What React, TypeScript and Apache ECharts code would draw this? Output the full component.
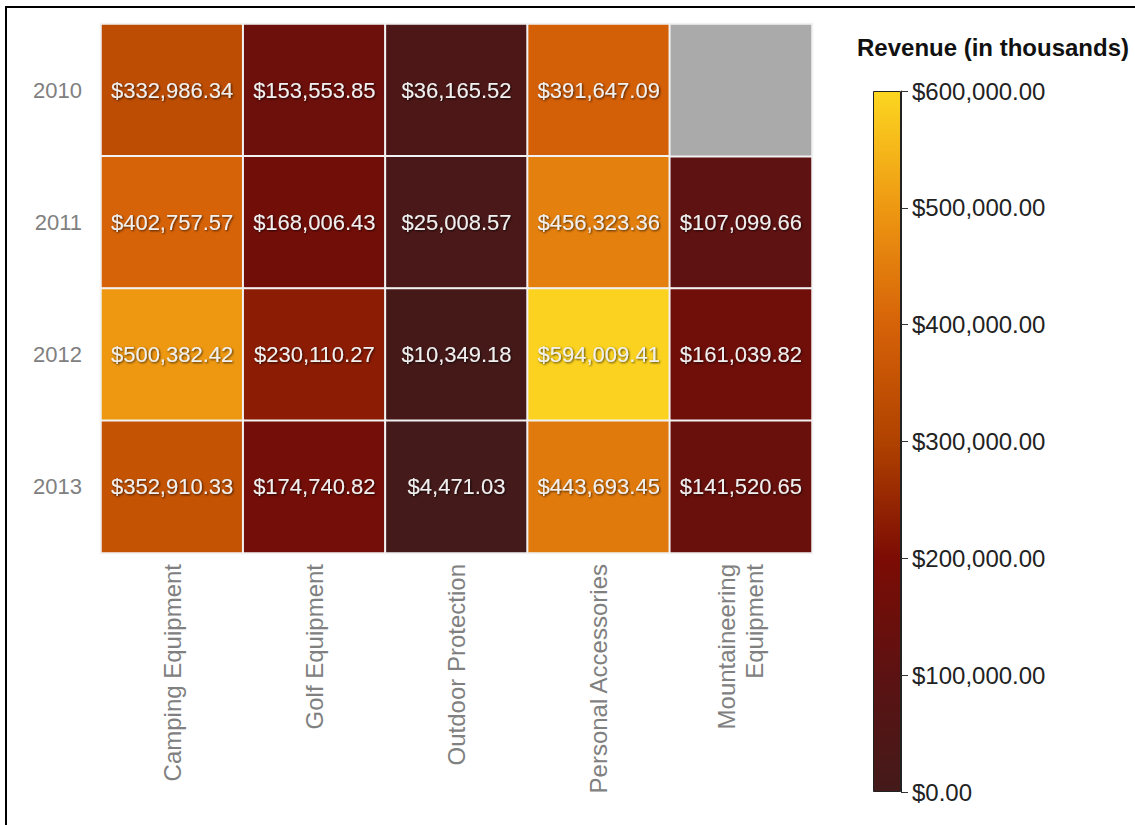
import React, { useEffect, useRef } from "react";
import * as echarts from "echarts";

const years = ["2010", "2011", "2012", "2013"];
const categories = [
  "Camping Equipment",
  "Golf Equipment",
  "Outdoor Protection",
  "Personal Accessories",
  "Mountaineering\nEquipment",
];
const revenue2010: (number | null)[] = [332986.34, 153553.85, 36165.52, 391647.09, null];
const revenue2011: (number | null)[] = [402757.57, 168006.43, 25008.57, 456323.36, 107099.66];
const revenue2012: (number | null)[] = [500382.42, 230110.27, 10349.18, 594009.41, 161039.82];
const revenue2013: (number | null)[] = [352910.33, 174740.82, 4471.03, 443693.45, 141520.65];
const revenueByYear = [revenue2010, revenue2011, revenue2012, revenue2013];

const scaleMin = 0;
const scaleMax = 600000;
const scaleStep = 100000;
const scaleColors = ["#441a1a", "#5c1212", "#7c0c04", "#b04200", "#d66208", "#ee9812", "#fcd621"];
const missingColor = "#aaaaaa";
const legendTitle = "Revenue (in thousands)";

const FONT = "'Liberation Sans', Arial, Helvetica, sans-serif";

const money = (v: number) =>
  "$" + v.toLocaleString("en-US", { minimumFractionDigits: 2, maximumFractionDigits: 2 });

export default function App() {
  const ref = useRef<HTMLDivElement>(null);

  useEffect(() => {
    if (!ref.current) return;
    const chart = echarts.init(ref.current, undefined, { renderer: "svg" });

    const cells: [number, number, number][] = [];
    const missing: [number, number, number][] = [];
    revenueByYear.forEach((row, yi) =>
      row.forEach((v, xi) => {
        if (v === null) missing.push([xi, yi, 0]);
        else cells.push([xi, yi, v]);
      })
    );

    const gradientStops = scaleColors.map((c, i) => ({
      offset: i / (scaleColors.length - 1),
      color: c,
    }));

    chart.setOption({
      animation: false,
      backgroundColor: "#ffffff",
      title: {
        text: legendTitle,
        left: 852,
        top: 30,
        textStyle: { fontFamily: FONT, fontSize: 24, fontWeight: "bold", color: "#111" },
      },
      grid: [
        { left: 101, top: 24, width: 711, height: 529 },
        { left: 873, top: 91, width: 28, height: 701 },
      ],
      xAxis: [
        {
          type: "category",
          gridIndex: 0,
          data: categories,
          axisLine: { show: false },
          axisTick: { show: false },
          splitLine: { show: false },
          axisLabel: {
            rotate: 90,
            margin: 11,
            color: "#808080",
            fontSize: 24,
            lineHeight: 28,
            fontFamily: FONT,
            interval: 0,
          },
        },
        {
          type: "category",
          gridIndex: 1,
          data: [""],
          show: false,
        },
      ],
      yAxis: [
        {
          type: "category",
          gridIndex: 0,
          data: years,
          inverse: true,
          axisLine: { show: false },
          axisTick: { show: false },
          splitLine: { show: false },
          axisLabel: { margin: 19, color: "#808080", fontSize: 22, fontFamily: FONT },
        },
        {
          type: "value",
          gridIndex: 1,
          min: scaleMin,
          max: scaleMax,
          interval: scaleStep,
          position: "right",
          splitLine: { show: false },
          axisLine: { show: true, lineStyle: { color: "#222", width: 1 } },
          axisTick: { show: true, length: 7, lineStyle: { color: "#333", width: 1 } },
          axisLabel: {
            margin: 11,
            color: "#222",
            fontSize: 24,
            fontFamily: FONT,
            formatter: (v: number) => money(v),
          },
        },
      ],
      visualMap: [
        {
          type: "continuous",
          show: false,
          min: scaleMin,
          max: scaleMax,
          seriesIndex: 0,
          inRange: { color: scaleColors },
        },
        {
          type: "continuous",
          show: false,
          min: 0,
          max: 1,
          seriesIndex: 1,
          inRange: { color: [missingColor, missingColor] },
          outOfRange: { color: missingColor },
        },
      ],
      series: [
        {
          type: "heatmap",
          xAxisIndex: 0,
          yAxisIndex: 0,
          data: cells,
          itemStyle: { borderColor: "#f2f2f2", borderWidth: 2 },
          label: {
            show: true,
            formatter: (p: any) => money(p.value[2]),
            color: "#f0f0f0",
            fontSize: 22,
            fontFamily: FONT,
            textShadowColor: "rgba(0,0,0,0.7)",
            textShadowBlur: 2,
            textShadowOffsetX: 1,
            textShadowOffsetY: 1,
          },
          emphasis: { disabled: true },
        },
        {
          type: "heatmap",
          xAxisIndex: 0,
          yAxisIndex: 0,
          data: missing,
          itemStyle: { borderColor: "#f2f2f2", borderWidth: 2 },
          label: { show: false },
          emphasis: { disabled: true },
        },
        {
          type: "bar",
          xAxisIndex: 1,
          yAxisIndex: 1,
          data: [scaleMax],
          barWidth: "100%",
          itemStyle: {
            color: new echarts.graphic.LinearGradient(0, 1, 0, 0, gradientStops),
            borderColor: "#222",
            borderWidth: 1,
          },
          silent: true,
        },
      ],
    });

    return () => chart.dispose();
  }, []);

  return (
    <div style={{ position: "fixed", left: 0, top: 0, width: 1135, height: 825, overflow: "hidden", background: "#fff" }}>
      <div ref={ref} style={{ position: "absolute", left: 0, top: 0, width: 1135, height: 825 }} />
      <div
        style={{
          position: "absolute",
          left: 5,
          top: 6,
          width: 1130,
          height: 819,
          boxSizing: "border-box",
          borderTop: "2px solid #000",
          borderLeft: "2px solid #000",
          pointerEvents: "none",
        }}
      />
    </div>
  );
}
